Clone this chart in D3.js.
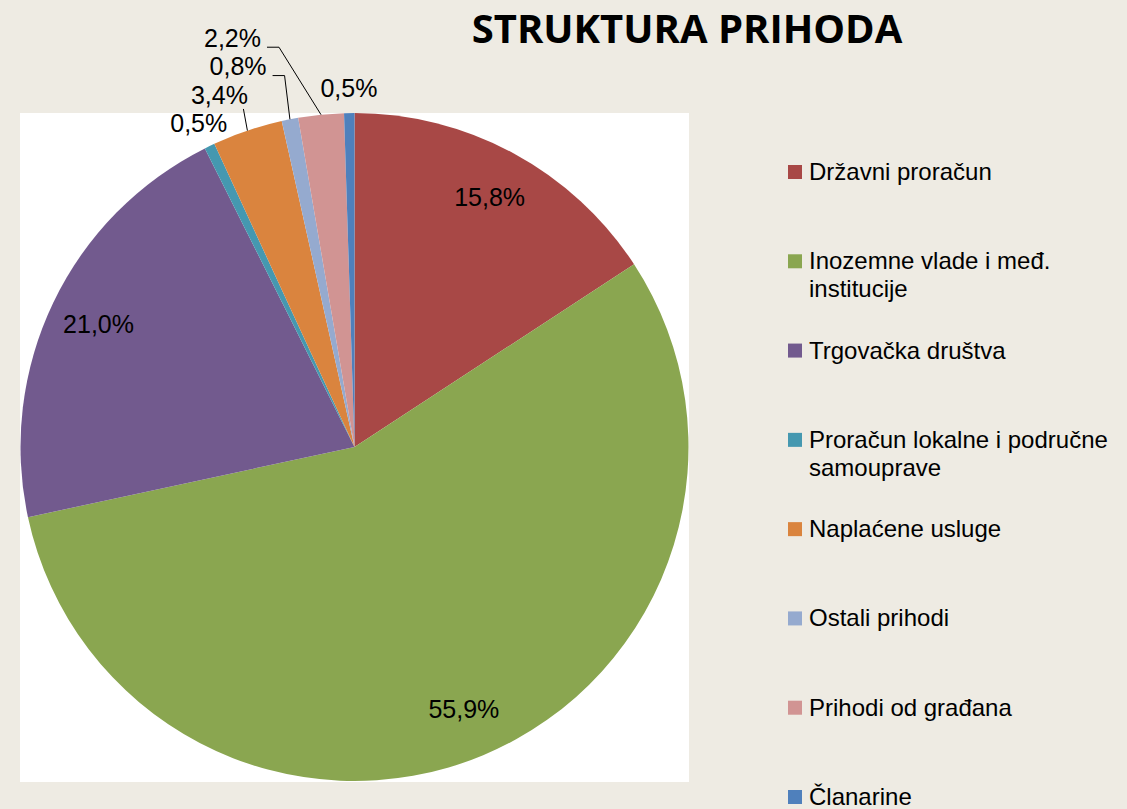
<!DOCTYPE html>
<html>
<head>
<meta charset="utf-8">
<script src="https://cdn.jsdelivr.net/npm/d3@7"></script>
<style>
  body { margin: 0; background: #EEEBE3; }
  svg { display: block; }
  text { font-family: "Liberation Sans", Arial, sans-serif; fill: #000; }
</style>
</head>
<body>
<div class="canvas"></div>
<script>
// data
const categories = [
    'Državni proračun',
    'Inozemne vlade i međ. institucije',
    'Trgovačka društva',
    'Proračun lokalne i područne samouprave',
    'Naplaćene usluge',
    'Ostali prihodi',
    'Prihodi od građana',
    'Članarine'
];
const values = [15.8, 55.9, 21.0, 0.5, 3.4, 0.8, 2.2, 0.5];
const colors = ['#A84846', '#8AA650', '#725A8E', '#4598B0', '#DA843E', '#95AACF', '#D19493', '#4F80BC'];
const title = 'STRUKTURA PRIHODA';

const data = categories.map((c, i) => ({ name: c, value: values[i] }));

// select svg container
const svg = d3.select('.canvas')
    .append('svg')
    .attr('width', 1127)
    .attr('height', 809);

svg.append('rect')
    .attr('width', 1127)
    .attr('height', 809)
    .attr('fill', '#EEEBE3');

// white plot area
svg.append('rect')
    .attr('x', 20)
    .attr('y', 113)
    .attr('width', 669)
    .attr('height', 669)
    .attr('fill', '#fff');

// title
svg.append('text')
    .attr('x', 687)
    .attr('y', 43)
    .attr('text-anchor', 'middle')
    .style('font-family', '"Open Sans", sans-serif')
    .style('font-weight', 700)
    .style('font-size', '40px')
    .text(title);

// pie
const cx = 354.5, cy = 447, radius = 334;
const graph = svg.append('g')
    .attr('transform', `translate(${cx}, ${cy})`);

const color = d3.scaleOrdinal().domain(categories).range(colors);

const pie = d3.pie()
    .sort(null)
    .value(d => d.value);

const arc = d3.arc()
    .innerRadius(0)
    .outerRadius(radius);

const arcs = pie(data);

graph.selectAll('path')
    .data(arcs)
    .enter()
    .append('path')
    .attr('d', arc)
    .attr('fill', d => color(d.data.name));

const fmt = v => d3.format('.1f')(v).replace('.', ',') + '%';
const mid = d => (d.startAngle + d.endAngle) / 2;
const polar = (a, r) => [Math.sin(a) * r, -Math.cos(a) * r];

// inside labels for big slices
const inside = arcs.filter(d => d.data.value >= 5);
graph.selectAll('text.inside')
    .data(inside)
    .enter()
    .append('text')
    .attr('class', 'inside')
    .attr('x', d => polar(mid(d), radius * 0.85)[0])
    .attr('y', d => polar(mid(d), radius * 0.85)[1])
    .attr('dy', '0.35em')
    .attr('text-anchor', 'middle')
    .style('font-size', '25px')
    .text(d => fmt(d.data.value));

// outside labels for small slices: the one nearest 12 o'clock keeps its spot,
// the rest go in slice order and are pushed up-left when they collide
const small = arcs.filter(d => d.data.value < 5);
const topOne = small[small.length - 1];
const outside = [topOne, ...small.slice(0, -1)];

const placed = [];
const overlaps = (b) => placed.some(p =>
    b.x0 < p.x1 && b.x1 > p.x0 && b.y0 < p.y1 && b.y1 > p.y0);

outside.forEach(d => {
    const t = graph.append('text')
        .attr('text-anchor', 'middle')
        .attr('dy', '0.35em')
        .style('font-size', '25px')
        .text(fmt(d.data.value));
    const tw = t.node().getBBox().width;
    const w = tw + 10, h = 28;
    let [x, y] = polar(mid(d), radius + 25);
    const [x0, y0] = [x, y];
    const box = () => ({ x0: x - w / 2, x1: x + w / 2, y0: y - h / 2, y1: y + h / 2 });
    let steps = 0;
    while (overlaps(box()) && steps < 400) {
        x -= 1; y -= 0.6; steps++;
    }
    t.attr('x', x).attr('y', y);
    placed.push(box());

    // leader line if the label moved away from its slice
    if (Math.hypot(x - x0, y - y0) > 8) {
        const [ax, ay] = polar(mid(d), radius);
        const right = x + tw / 2;
        let pts;
        if (ax > right + 6) {
            pts = [[right + 6, y + 9], [right + 18, y + 9], [ax, ay]];
        } else {
            pts = [[ax - 4, y + 14], [ax, ay]];
        }
        graph.append('path')
            .attr('d', d3.line()(pts))
            .attr('fill', 'none')
            .attr('stroke', '#000')
            .attr('stroke-width', 1);
    }
});

// legend
const legendY = d3.scalePoint()
    .domain(categories)
    .range([180, 805]);

const legend = svg.append('g');
const maxW = 318;

categories.forEach(c => {
    const y = legendY(c);
    legend.append('rect')
        .attr('x', 788)
        .attr('y', y - 15)
        .attr('width', 14)
        .attr('height', 14)
        .attr('fill', color(c));
    const t = legend.append('text')
        .attr('x', 809)
        .attr('y', y)
        .style('font-size', '24px');
    // wrap words
    const words = c.split(' ');
    let line = [];
    let tspan = t.append('tspan').attr('x', 809).attr('y', y);
    let lineNo = 0;
    words.forEach(word => {
        line.push(word);
        tspan.text(line.join(' '));
        if (tspan.node().getComputedTextLength() > maxW && line.length > 1) {
            line.pop();
            tspan.text(line.join(' '));
            line = [word];
            lineNo++;
            tspan = t.append('tspan')
                .attr('x', 809)
                .attr('y', y + lineNo * 28)
                .text(word);
        }
    });
});
</script>
</body>
</html>
